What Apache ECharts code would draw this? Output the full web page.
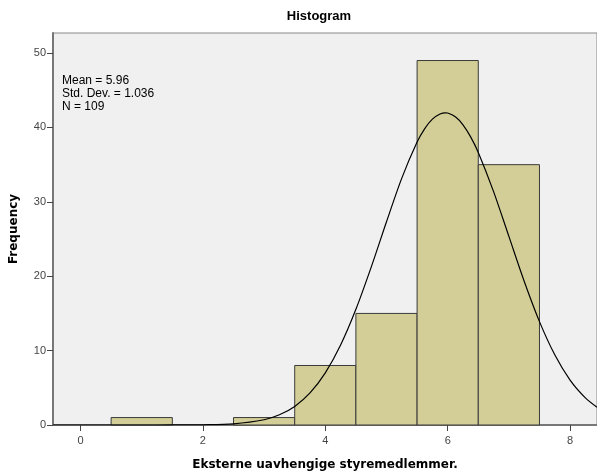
<!DOCTYPE html>
<html><head><meta charset="utf-8">
<script src="https://cdn.jsdelivr.net/npm/echarts@6/dist/echarts.min.js"></script>
<style>html,body{margin:0;padding:0;background:#fff}#c{width:597px;height:473px}</style>
</head><body><div id="c"></div>
<script>
var binCenters = [1, 3, 4, 5, 6, 7];
var frequencies = [1, 1, 8, 15, 49, 35];
var curveX = [-0.45, 0.5, 1.0, 1.5, 2.0, 2.5, 3.0, 3.25, 3.5, 3.75, 4.0, 4.25, 4.5, 4.75, 5.0, 5.25, 5.5, 5.625, 5.75, 5.875, 5.96, 6.0, 6.125, 6.25, 6.375, 6.5, 6.75, 7.0, 7.25, 7.5, 7.75, 8.0, 8.25, 8.44];
var curveY = [0, 0, 0, 0.004, 0.028, 0.16, 0.71, 1.37, 2.50, 4.31, 7.01, 10.75, 15.55, 21.22, 27.32, 33.19, 38.03, 39.85, 41.12, 41.80, 41.97, 41.94, 41.43, 40.36, 38.73, 36.64, 31.38, 25.36, 19.33, 13.90, 9.44, 6.04, 3.65, 2.4];
var xTicks = [0, 2, 4, 6, 8];
var yTicks = [0, 10, 20, 30, 40, 50];
var statsText = ['Mean = 5.96', 'Std. Dev. = 1.036', 'N = 109'];

var chart = echarts.init(document.getElementById('c'), null, {renderer: 'canvas'});
var font = '"Liberation Sans", Arial, sans-serif';
var nameFont = '"DejaVu Sans", sans-serif';
var option = {
  animation: false,
  title: {text: 'Histogram', left: 314, top: 5, textAlign: 'center',
    textStyle: {fontFamily: font, fontSize: 13, fontWeight: 'bold', color: '#000'}},
  grid: {left: 53, top: 33, right: 0, bottom: 48, outerBoundsMode: 'none', containLabel: false,
    show: true, backgroundColor: '#f0f0f0', borderColor: '#888', borderWidth: 1},
  xAxis: {type: 'value', min: -0.45, max: 8.44,
    name: 'Eksterne uavhengige styremedlemmer.', nameLocation: 'middle', nameGap: 34,
    nameTextStyle: {fontFamily: nameFont, fontSize: 12, fontWeight: 'bold', color: '#000'},
    axisLine: {onZero: false, lineStyle: {color: '#777', width: 2}},
    axisTick: {show: true, inside: false, length: 6, customValues: xTicks, lineStyle: {color: '#444'}},
    axisLabel: {customValues: xTicks, color: '#444', fontFamily: font, fontSize: 11, margin: 10},
    splitLine: {show: false}},
  yAxis: {type: 'value', min: 0, max: 52.7,
    name: 'Frequency', nameLocation: 'middle', nameGap: 33, nameRotate: 90,
    nameTextStyle: {fontFamily: nameFont, fontSize: 12, fontWeight: 'bold', color: '#000'},
    axisLine: {show: true, onZero: false, lineStyle: {color: '#777', width: 2}},
    axisTick: {show: true, inside: false, length: 6, customValues: yTicks, lineStyle: {color: '#444'}},
    axisLabel: {customValues: yTicks, color: '#444', fontFamily: font, fontSize: 11, margin: 7},
    splitLine: {show: false}},
  graphic: [{type: 'text', left: 62, top: 74, z: 100,
    style: {text: statsText.join('\n'), fontFamily: font, fontSize: 12, lineHeight: 13, fill: '#000'}}],
  series: [
    {type: 'custom', z: 2,
     data: binCenters.map(function (c, i) { return [c, frequencies[i]]; }),
     encode: {x: 0, y: 1},
     renderItem: function (params, api) {
       var c = api.value(0), f = api.value(1);
       var p1 = api.coord([c - 0.5, f]);
       var p2 = api.coord([c + 0.5, 0]);
       return {type: 'rect', shape: {x: p1[0], y: p1[1], width: p2[0] - p1[0], height: p2[1] - p1[1]},
         style: {fill: '#d3ce97', stroke: '#3a3a3a', lineWidth: 1}};
     }},
    {type: 'line', z: 3, smooth: 0.3, symbol: 'none', clip: true,
     data: curveX.map(function (x, i) { return [x, curveY[i]]; }),
     lineStyle: {color: '#000', width: 1.2}}
  ]
};
chart.setOption(option);
</script></body></html>
